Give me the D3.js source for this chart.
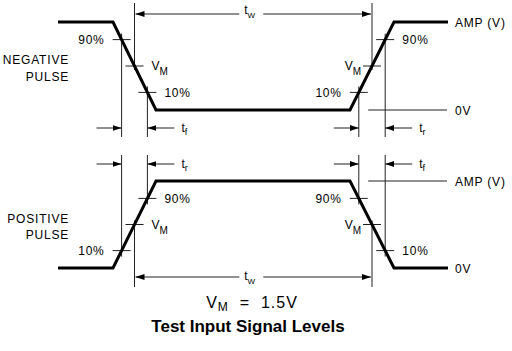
<!DOCTYPE html>
<html>
<head>
<meta charset="utf-8">
<title>Test Input Signal Levels</title>
<style>
  body { margin: 0; background: #fff; }
  svg text { font-family: "Liberation Sans", Arial, sans-serif; fill: #000; }
  .thin { stroke: #222; stroke-width: 1; fill: none; }
  .wave { stroke: #000; stroke-width: 3; fill: none; stroke-linejoin: miter; }
  .lbl { font-size: 12px; letter-spacing: 0.8px; }
</style>
</head>
<body>
<div id="chart"></div>
<script src="https://d3js.org/d3.v7.min.js"></script>
<script>
(function(d3) {
  'use strict';

  // corners of the two waveforms: time (arbitrary units) and level (0 = 0V, 1 = AMP)
  var times = [0, 55, 98, 292, 336, 390];
  var negativeLevels = [1, 1, 0, 0, 1, 1];
  var positiveLevels = [0, 0, 1, 1, 0, 0];

  // reference levels, as drawn (fraction of the swing)
  var thresholdNames = ['10%', 'VM', '90%'];
  var thresholdLevels = [0.2, 0.5, 0.8];

  var pulseNames = [['NEGATIVE', 'PULSE'], ['POSITIVE', 'PULSE']];
  var edgeNames = [['f', 'r'], ['r', 'f']];   // subscripts of t at each edge
  var levelNames = ['0V', 'AMP (V)'];

  var width = 512, height = 351;

  var svg = d3.select('#chart').append('svg')
    .attr('width', width)
    .attr('height', height);

  svg.append('defs').append('marker')
    .attr('id', 'head')
    .attr('markerUnits', 'userSpaceOnUse')
    .attr('markerWidth', 9).attr('markerHeight', 6)
    .attr('refX', 9).attr('refY', 3)
    .attr('orient', 'auto')
    .append('path').attr('d', 'M0,0L9,3L0,6Z').attr('fill', '#000');

  var x = d3.scaleLinear().domain([0, 390]).range([58, 448]);

  var panels = [
    { levels: negativeLevels, y: d3.scaleLinear().domain([0, 1]).range([110, 22]),
      names: pulseNames[0], edges: edgeNames[0], arrowY: 128, twY: 14, top: true, refLevel: 0 },
    { levels: positiveLevels, y: d3.scaleLinear().domain([0, 1]).range([268, 181]),
      names: pulseNames[1], edges: edgeNames[1], arrowY: 164, twY: 277, top: false, refLevel: 1 }
  ];

  var edgeIdx = [1, 3];

  function crossTime(levels, i, L) {
    return times[i] + (L - levels[i]) / (levels[i + 1] - levels[i]) * (times[i + 1] - times[i]);
  }

  function seg(g, x1, y1, x2, y2) {
    return g.append('line').attr('class', 'thin')
      .attr('x1', x1).attr('y1', y1).attr('x2', x2).attr('y2', y2);
  }

  function arrow(g, x1, y, x2) {
    seg(g, x1, y, x2, y).attr('marker-end', 'url(#head)');
  }

  function subText(g, xPos, yPos, main, sub, anchor, size, subSize, dy) {
    var t = g.append('text')
      .attr('x', xPos).attr('y', yPos)
      .attr('text-anchor', anchor)
      .style('font-size', size + 'px');
    t.append('tspan').text(main);
    t.append('tspan').attr('dy', dy).style('font-size', subSize + 'px').text(sub);
    return t;
  }

  panels.forEach(function(p) {
    var g = svg.append('g');
    var line = d3.line()
      .x(function(d, i) { return x(times[i]); })
      .y(function(d) { return p.y(d); });

    // pulse name
    var vmY = p.y(0.5);
    g.append('text').attr('class', 'lbl').attr('x', 69).attr('y', vmY - 2)
      .attr('text-anchor', 'end').text(p.names[0]);
    g.append('text').attr('class', 'lbl').attr('x', 69).attr('y', vmY + 14.5)
      .attr('text-anchor', 'end').text(p.names[1]);

    var vmX = [];

    edgeIdx.forEach(function(i, k) {
      var xs = thresholdLevels.map(function(L) { return x(crossTime(p.levels, i, L)); });
      var ys = thresholdLevels.map(function(L) { return p.y(L); });

      thresholdLevels.forEach(function(L, j) {
        var cx = xs[j], cy = ys[j];
        seg(g, cx - 9, cy, cx + 9, cy);

        var side;
        if (thresholdNames[j] === 'VM') side = (k === 0) ? 1 : -1;
        else side = Math.abs(L - p.levels[i]) < 0.5 ? -1 : 1;

        if (thresholdNames[j] === 'VM') {
          subText(g, cx + side * (side > 0 ? 17 : 11), cy + 4, 'V', 'M',
            side > 0 ? 'start' : 'end', 12, 10, 5);
        } else {
          g.append('text').attr('class', 'lbl')
            .attr('x', cx + side * 17).attr('y', cy + 4.5)
            .attr('text-anchor', side > 0 ? 'start' : 'end')
            .text(thresholdNames[j]);

          // 10% / 90% reference verticals
          if (p.top) seg(g, cx, cy - 6, cx, 137);
          else seg(g, cx, 155, cx, cy + 6);
        }
      });

      // VM verticals for the width
      vmX.push(xs[1]);
      if (p.top) seg(g, xs[1], 3, xs[1], ys[1] + 4);
      else seg(g, xs[1], ys[1] - 4, xs[1], 287);

      // rise / fall time arrows
      var lo = Math.min(xs[0], xs[2]), hi = Math.max(xs[0], xs[2]);
      arrow(g, lo - 25, p.arrowY, lo);
      arrow(g, hi + 27, p.arrowY, hi);
      subText(g, hi + 34, p.arrowY + 3.5, 't', p.edges[k], 'start', 12, 9, 3.5);

      // thin reference line at the far level, right edge only
      if (k === 1) {
        var ry = p.y(p.refLevel);
        seg(g, hi - 17, ry, x(times[times.length - 1]) - 1, ry);
      }
    });

    // pulse width
    var mid = (vmX[0] + vmX[1]) / 2;
    arrow(g, mid - 14, p.twY, vmX[0] + 1);
    arrow(g, mid + 10, p.twY, vmX[1] - 1);
    subText(g, mid - 9, p.twY + (p.top ? 0 : 3), 't', 'W', 'start', 12, 8, 4);

    // level names at the right
    [0, 1].forEach(function(l) {
      g.append('text').attr('class', 'lbl')
        .attr('x', 455).attr('y', p.y(l) + 4.5)
        .text(levelNames[l]);
    });

    g.append('path').datum(p.levels).attr('class', 'wave').attr('d', line);
  });

  // footer
  var foot = svg.append('text').attr('x', 252).attr('y', 308)
    .attr('text-anchor', 'middle').style('font-size', '16px').style('letter-spacing', '1px');
  foot.append('tspan').text('V');
  foot.append('tspan').attr('dy', 3).style('font-size', '12px').text('M');
  foot.append('tspan').attr('dy', -3).text('  =  1.5V').attr('xml:space', 'preserve');

  svg.append('text').attr('x', 248).attr('y', 332)
    .attr('text-anchor', 'middle')
    .style('font-size', '17px').style('font-weight', 'bold')
    .text('Test Input Signal Levels');

})(window.d3);
</script>
</body>
</html>
